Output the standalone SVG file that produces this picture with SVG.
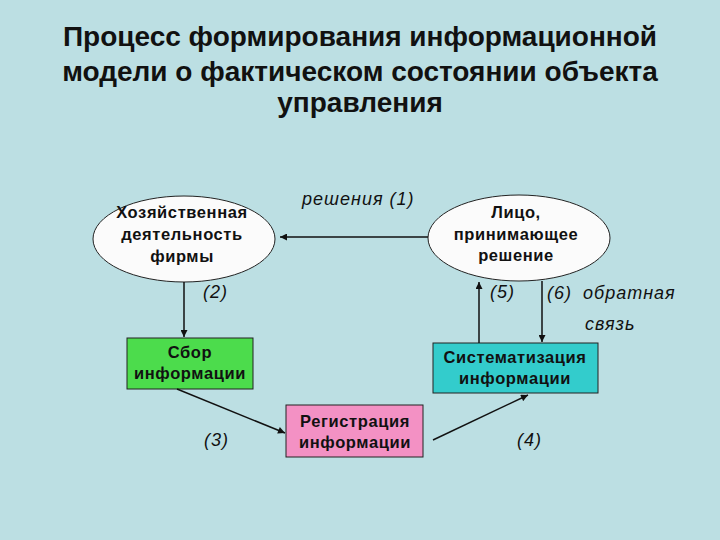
<svg xmlns="http://www.w3.org/2000/svg" width="720" height="540" viewBox="0 0 720 540">
<defs>
<marker id="ah" viewBox="0 0 10 10" refX="10" refY="5" markerWidth="9" markerHeight="7" markerUnits="userSpaceOnUse" orient="auto">
<path d="M0,0 L10,5 L0,10 z" fill="#111"/>
</marker>
</defs>
<style>
.title{font-family:"Liberation Sans",Arial,sans-serif;font-weight:bold;font-size:28px;fill:#111;text-anchor:middle}
.node{font-family:"Liberation Sans",Arial,sans-serif;font-weight:bold;font-size:16.5px;fill:#111;text-anchor:middle;letter-spacing:0.6px}
.lbl{font-family:"Liberation Sans",Arial,sans-serif;font-style:italic;font-size:18px;fill:#111;letter-spacing:1px}
.ell{fill:#fbfbfb;stroke:#222;stroke-width:1}
.box{stroke:#222;stroke-width:1}
.conn line{stroke:#111;stroke-width:1.5;marker-end:url(#ah)}
</style>
<rect x="0" y="0" width="720" height="540" fill="#bcdfe3"/>
<g id="title">
<text class="title" x="360" y="46">Процесс формирования информационной</text>
<text class="title" x="360" y="81">модели о фактическом состоянии объекта</text>
<text class="title" x="360" y="112">управления</text>
</g>
<g id="node-economy">
<ellipse class="ell" cx="184" cy="239" rx="91" ry="43"/>
<text class="node" x="182" y="218">Хозяйственная</text>
<text class="node" x="182" y="240">деятельность</text>
<text class="node" x="182" y="262">фирмы</text>
</g>
<g id="node-person">
<ellipse class="ell" cx="519" cy="238" rx="91" ry="43"/>
<text class="node" x="516" y="218">Лицо,</text>
<text class="node" x="516" y="240">принимающее</text>
<text class="node" x="516" y="261">решение</text>
</g>
<g id="node-collect">
<rect class="box" x="127" y="338" width="126" height="51" fill="#4cdc4c"/>
<text class="node" x="190" y="358">Сбор</text>
<text class="node" x="190" y="379">информации</text>
</g>
<g id="node-register">
<rect class="box" x="286" y="405" width="137" height="52" fill="#f391c4"/>
<text class="node" x="355" y="427">Регистрация</text>
<text class="node" x="355" y="448">информации</text>
</g>
<g id="node-system">
<rect class="box" x="433" y="343" width="165" height="50" fill="#33cccc"/>
<text class="node" x="515" y="363">Систематизация</text>
<text class="node" x="515" y="384">информации</text>
</g>
<g id="connectors" class="conn">
<line x1="428" y1="237" x2="280" y2="237"/>
<line x1="184" y1="282" x2="184" y2="337"/>
<line x1="177" y1="389" x2="285" y2="433"/>
<line x1="433" y1="440" x2="528" y2="395"/>
<line x1="479" y1="343" x2="479" y2="282"/>
<line x1="542" y1="281" x2="542" y2="342"/>
</g>
<g id="labels">
<text class="lbl" x="302" y="205">решения (1)</text>
<text class="lbl" x="203" y="298">(2)</text>
<text class="lbl" x="204" y="446">(3)</text>
<text class="lbl" x="517" y="446">(4)</text>
<text class="lbl" x="490" y="298">(5)</text>
<text class="lbl" x="547" y="299">(6)<tspan x="583">обратная</tspan></text>
<text class="lbl" x="585" y="330">связь</text>
</g>
</svg>
